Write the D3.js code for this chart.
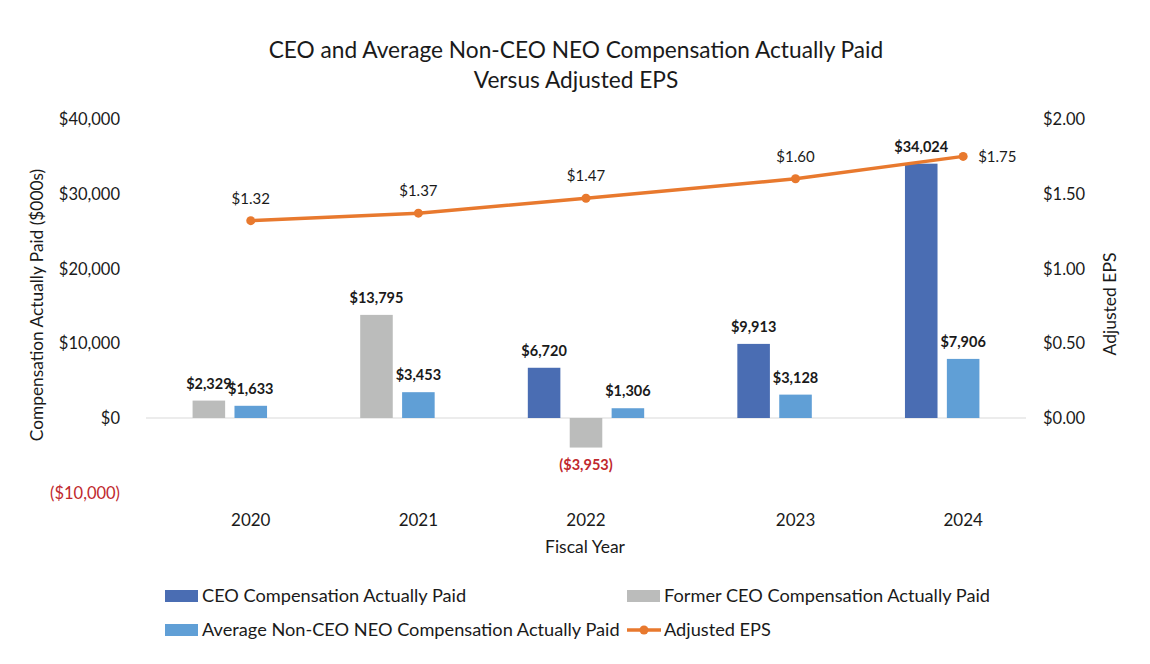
<!DOCTYPE html>
<html>
<head>
<meta charset="utf-8">
<script src="https://cdn.jsdelivr.net/npm/d3@7"></script>
<style>
  body { margin: 0; background: #fff; }
  svg { font-family: Lato, "Open Sans", sans-serif; }
</style>
</head>
<body>
<svg id="chart" width="1150" height="664"></svg>
<script>
// chart data
var years = ["2020", "2021", "2022", "2023", "2024"];
var ceoPaid = [null, null, 6720, 9913, 34024];
var formerCeoPaid = [2329, 13795, -3953, null, null];
var neoPaid = [1633, 3453, 1306, 3128, 7906];
var adjEps = [1.32, 1.37, 1.47, 1.60, 1.75];
var compTicks = [-10000, 0, 10000, 20000, 30000, 40000];
var epsTicks = [0, 0.5, 1, 1.5, 2];
var seriesNames = ["CEO Compensation Actually Paid", "Former CEO Compensation Actually Paid",
    "Average Non-CEO NEO Compensation Actually Paid", "Adjusted EPS"];

var colors = ["#4a6db3", "#bbbcbb", "#609fd6"], lineColor = "#e8792e", red = "#c0282d";
var series = [ceoPaid, formerCeoPaid, neoPaid];

var svg = d3.select("#chart");

// lay bars out in slots: one per non-empty value, two empty slots between years
var bars = [], groups = [], slot = 0;
years.forEach(function (yr, i) {
    var first = slot;
    series.forEach(function (s, k) {
        if (s[i] != null) { bars.push({ year: yr, k: k, value: s[i], slot: slot }); slot++; }
    });
    groups.push({ year: yr, eps: adjEps[i], slot: Math.ceil((first + slot - 1) / 2) });
    slot += 2;
});
var lastSlot = slot - 3;

var x = d3.scaleLinear().domain([-1.5, lastSlot + 1.5]).range([146, 1026]);
var y = d3.scaleLinear().domain([-10000, 40000]).range([492.75, 119]);
var y2 = d3.scaleLinear().domain([0, 2]).range([y(0), 119]);
var barW = (x(1) - x(0)) * 0.777;

var money = function (v) { return v < 0 ? "($" + d3.format(",")(-v) + ")" : "$" + d3.format(",")(v); };

// title
svg.append("text").attr("x", 576).attr("y", 58).attr("text-anchor", "middle")
    .style("font-size", "22.7px").style("fill", "#1a1a1a")
    .text("CEO and Average Non-CEO NEO Compensation Actually Paid");
svg.append("text").attr("x", 576).attr("y", 88).attr("text-anchor", "middle")
    .style("font-size", "22.7px").style("fill", "#1a1a1a")
    .text("Versus Adjusted EPS");

// left axis labels
svg.append("g").selectAll("text").data(compTicks).enter().append("text")
    .attr("x", 120).attr("y", function (d) { return y(d) + 6; })
    .attr("text-anchor", "end")
    .style("font-size", "16.5px")
    .style("fill", function (d) { return d < 0 ? red : "#1a1a1a"; })
    .text(money);

// right axis labels
svg.append("g").selectAll("text").data(epsTicks).enter().append("text")
    .attr("x", 1043).attr("y", function (d) { return y2(d) + 6; })
    .style("font-size", "16.5px").style("fill", "#1a1a1a")
    .text(function (d) { return "$" + d3.format(".2f")(d); });

// axis titles
svg.append("text").attr("transform", "translate(43,305) rotate(-90)")
    .attr("text-anchor", "middle").style("font-size", "17.3px").style("fill", "#1a1a1a")
    .text("Compensation Actually Paid ($000s)");
svg.append("text").attr("transform", "translate(1116,304) rotate(-90)")
    .attr("text-anchor", "middle").style("font-size", "17.5px").style("fill", "#1a1a1a")
    .text("Adjusted EPS");

// zero line
svg.append("line").attr("x1", x.range()[0]).attr("x2", x.range()[1])
    .attr("y1", y(0)).attr("y2", y(0))
    .style("stroke", "#d9d9d9").style("stroke-width", 1);

// bars
svg.append("g").selectAll("rect").data(bars).enter().append("rect")
    .attr("x", function (d) { return x(d.slot) - barW / 2; })
    .attr("width", barW)
    .attr("y", function (d) { return y(Math.max(0, d.value)); })
    .attr("height", function (d) { return Math.abs(y(d.value) - y(0)); })
    .style("fill", function (d) { return colors[d.k]; });

// bar value labels
svg.append("g").selectAll("text").data(bars).enter().append("text")
    .attr("x", function (d) { return x(d.slot); })
    .attr("y", function (d) { return d.value < 0 ? y(d.value) + 22 : y(d.value) - 12; })
    .attr("text-anchor", "middle")
    .style("font-size", "14.5px").style("font-weight", "bold")
    .style("fill", function (d) { return d.value < 0 ? red : "#1a1a1a"; })
    .text(function (d) { return money(d.value); });

// year labels
svg.append("g").selectAll("text").data(groups).enter().append("text")
    .attr("x", function (d) { return x(d.slot); }).attr("y", 526)
    .attr("text-anchor", "middle").style("font-size", "17px").style("fill", "#1a1a1a")
    .text(function (d) { return d.year; });
svg.append("text").attr("x", 585).attr("y", 553).attr("text-anchor", "middle")
    .style("font-size", "17.5px").style("fill", "#1a1a1a").text("Fiscal Year");

// EPS line
var line = d3.line().x(function (d) { return x(d.slot); }).y(function (d) { return y2(d.eps); });
svg.append("path").datum(groups).attr("d", line)
    .style("fill", "none").style("stroke", lineColor).style("stroke-width", 3.5);
svg.append("g").selectAll("circle").data(groups).enter().append("circle")
    .attr("cx", function (d) { return x(d.slot); }).attr("cy", function (d) { return y2(d.eps); })
    .attr("r", 4.5).style("fill", lineColor);
svg.append("g").selectAll("text").data(groups).enter().append("text")
    .attr("x", function (d, i) { return i === groups.length - 1 ? x(d.slot) + 15 : x(d.slot); })
    .attr("y", function (d, i) { return i === groups.length - 1 ? y2(d.eps) + 6 : y2(d.eps) - 17; })
    .attr("text-anchor", function (d, i) { return i === groups.length - 1 ? "start" : "middle"; })
    .style("font-size", "15px").style("fill", "#1a1a1a")
    .text(function (d) { return "$" + d3.format(".2f")(d.eps); });

// legend
var legendPos = [[165, 596], [627, 596], [165, 630], [627, 630]];
var legend = svg.append("g").selectAll("g").data(seriesNames).enter().append("g")
    .attr("transform", function (d, i) { return "translate(" + legendPos[i][0] + "," + legendPos[i][1] + ")"; });
legend.each(function (d, i) {
    var g = d3.select(this);
    if (i < 3) {
        g.append("rect").attr("x", 0).attr("y", -6).attr("width", 33).attr("height", 12)
            .style("fill", colors[i]);
    } else {
        g.append("line").attr("x1", 0).attr("x2", 34).attr("y1", 0).attr("y2", 0)
            .style("stroke", lineColor).style("stroke-width", 3.5);
        g.append("circle").attr("cx", 17).attr("cy", 0).attr("r", 4.5).style("fill", lineColor);
    }
    g.append("text").attr("x", 37).attr("y", 6).style("font-size", "18.2px").style("fill", "#1a1a1a")
        .text(d);
});
</script>
</body>
</html>
